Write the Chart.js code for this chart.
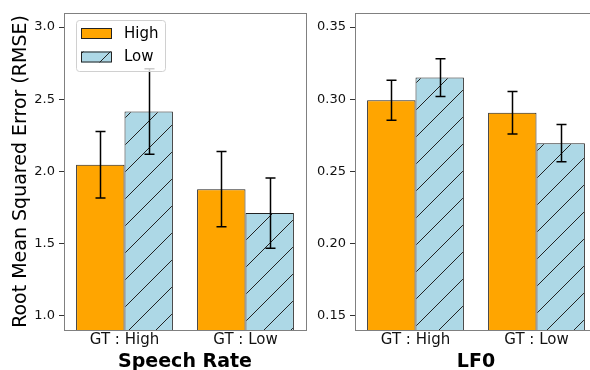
<!DOCTYPE html>
<html>
<head>
<meta charset="utf-8">
<script src="https://cdn.jsdelivr.net/npm/chart.js@4"></script>
<style>
  body { margin: 0; width: 590px; height: 370px; overflow: hidden; background: #fff; position: relative; }
  canvas { position: absolute; top: 0; }
  #left-chart { left: 0; }
  #right-chart { left: 310px; }
</style>
</head>
<body>
<canvas id="left-chart" width="310" height="370"></canvas>
<canvas id="right-chart" width="291" height="370"></canvas>
<script>
const categories = ['GT : High', 'GT : Low'];
const seriesNames = ['High', 'Low'];

// Speech Rate (left panel)
const rateHigh = [2.046, 1.878];
const rateLow = [2.415, 1.712];
const rateHighErr = [0.23, 0.26];
const rateLowErr = [0.296, 0.243];
const rateTicks = [1.0, 1.5, 2.0, 2.5, 3.0];

// LF0 (right panel)
const lf0High = [0.2993, 0.2906];
const lf0Low = [0.315, 0.2696];
const lf0HighErr = [0.0138, 0.0147];
const lf0LowErr = [0.0131, 0.0129];
const lf0Ticks = [0.15, 0.20, 0.25, 0.30, 0.35];

const FONT = "'DejaVu Sans', sans-serif";

function makeHatch() {
    const d = 27;
    const c = document.createElement('canvas');
    c.width = d; c.height = d;
    const g = c.getContext('2d');
    g.fillStyle = '#add8e6';
    g.fillRect(0, 0, d, d);
    g.strokeStyle = '#222';
    g.lineWidth = 1;
    for (let k = -1; k <= 1; k++) {
        g.beginPath();
        g.moveTo(k * d, d);
        g.lineTo(k * d + d, 0);
        g.stroke();
    }
    return g.createPattern(c, 'repeat');
}
const hatch = makeHatch();

// frame round the plot area, like matplotlib spines
const framePlugin = {
    id: 'frame',
    afterDraw(chart) {
        const a = chart.chartArea;
        const ctx = chart.ctx;
        ctx.save();
        ctx.strokeStyle = '#808080';
        ctx.lineWidth = 1;
        ctx.strokeRect(Math.round(a.left) + 0.5, Math.round(a.top) + 0.5,
            Math.round(a.right - a.left), Math.round(a.bottom - a.top));
        ctx.restore();
    }
};

const errorBarPlugin = {
    id: 'errorBars',
    afterDatasetsDraw(chart, args, opts) {
        const ctx = chart.ctx;
        const y = chart.scales.y;
        ctx.save();
        ctx.strokeStyle = '#000';
        ctx.lineWidth = 1.5;
        chart.data.datasets.forEach((ds, i) => {
            const meta = chart.getDatasetMeta(i);
            meta.data.forEach((bar, j) => {
                const v = ds.data[j], e = opts.errors[i][j];
                const x = Math.round(bar.x) + 0.5;
                const yTop = y.getPixelForValue(v + e);
                const yBot = y.getPixelForValue(v - e);
                ctx.beginPath();
                ctx.moveTo(x, yTop); ctx.lineTo(x, yBot);
                ctx.moveTo(x - 5, yTop); ctx.lineTo(x + 5, yTop);
                ctx.moveTo(x - 5, yBot); ctx.lineTo(x + 5, yBot);
                ctx.stroke();
            });
        });
        ctx.restore();
    }
};

const legendPlugin = {
    id: 'boxLegend',
    afterDraw(chart, args, opts) {
        if (!opts.show) return;
        const ctx = chart.ctx;
        const x0 = 76, y0 = 20.5, w = 89, h = 51;
        ctx.save();
        ctx.fillStyle = 'rgba(255,255,255,0.8)';
        ctx.strokeStyle = '#d0d0d0';
        ctx.lineWidth = 1;
        ctx.beginPath();
        ctx.roundRect(x0 + 0.5, y0, w, h, 3);
        ctx.fill();
        ctx.stroke();
        ctx.font = '15px ' + FONT;
        ctx.textBaseline = 'middle';
        chart.data.datasets.forEach((ds, i) => {
            const sy = 28 + i * 23.5;
            ctx.fillStyle = ds.backgroundColor;
            ctx.fillRect(81, sy, 30, 11);
            ctx.strokeStyle = '#222';
            ctx.strokeRect(81.5, sy + 0.5, 30, 10);
            ctx.fillStyle = '#000';
            ctx.fillText(ds.label, 124, sy + 6);
        });
        ctx.restore();
    }
};

function buildChart(id, title, high, low, highErr, lowErr, yMin, yMax, tickVals, decimals, axisWidth, showLegend, yTitle) {
    const ctx = document.getElementById(id).getContext('2d');
    return new Chart(ctx, {
        type: 'bar',
        data: {
            labels: categories,
            datasets: [
                {
                    label: seriesNames[0],
                    data: high,
                    backgroundColor: '#ffa500',
                    borderColor: '#222',
                    borderWidth: 1,
                    borderSkipped: false,
                    categoryPercentage: 0.8,
                    barPercentage: 1.0,
                },
                {
                    label: seriesNames[1],
                    data: low,
                    backgroundColor: hatch,
                    borderColor: '#222',
                    borderWidth: 1,
                    borderSkipped: false,
                    categoryPercentage: 0.8,
                    barPercentage: 1.0,
                },
            ],
        },
        options: {
            responsive: false,
            devicePixelRatio: 1,
            animation: false,
            layout: { padding: { top: 13, right: 4, left: 0, bottom: 0 } },
            plugins: {
                legend: { display: false },
                tooltip: { enabled: false },
                errorBars: { errors: [highErr, lowErr] },
                boxLegend: { show: showLegend },
            },
            scales: {
                x: {
                    grid: { display: false, drawTicks: false },
                    border: { display: false },
                    ticks: { font: { family: FONT, size: 15 }, color: '#111', padding: 1 },
                    title: {
                        display: true,
                        text: title,
                        font: { family: FONT, size: 19, weight: 'bold' },
                        color: '#000',
                        padding: { top: 0, bottom: -3 },
                    },
                    afterFit: s => { s.height = 40; },
                },
                y: {
                    min: yMin,
                    max: yMax,
                    grid: { drawOnChartArea: false, drawTicks: true, tickLength: 5, color: '#333' },
                    border: { display: false },
                    afterBuildTicks: s => { s.ticks = tickVals.map(v => ({ value: v })); },
                    ticks: {
                        font: { family: FONT, size: 13 },
                        color: '#111',
                        padding: 4,
                        callback: v => Number(v).toFixed(decimals),
                    },
                    title: {
                        display: !!yTitle,
                        text: yTitle || '',
                        font: { family: FONT, size: 19 },
                        color: '#000',
                        padding: { top: 10, bottom: 0 },
                    },
                    afterFit: s => { s.width = axisWidth; },
                },
            },
        },
        plugins: [errorBarPlugin, legendPlugin, framePlugin],
    });
}

buildChart('left-chart', 'Speech Rate', rateHigh, rateLow, rateHighErr, rateLowErr,
    0.903, 3.097, rateTicks, 1, 64, true, 'Root Mean Squared Error (RMSE)');
buildChart('right-chart', 'LF0', lf0High, lf0Low, lf0HighErr, lf0LowErr,
    0.1403, 0.3597, lf0Ticks, 2, 45, false, null);
</script>
</body>
</html>
